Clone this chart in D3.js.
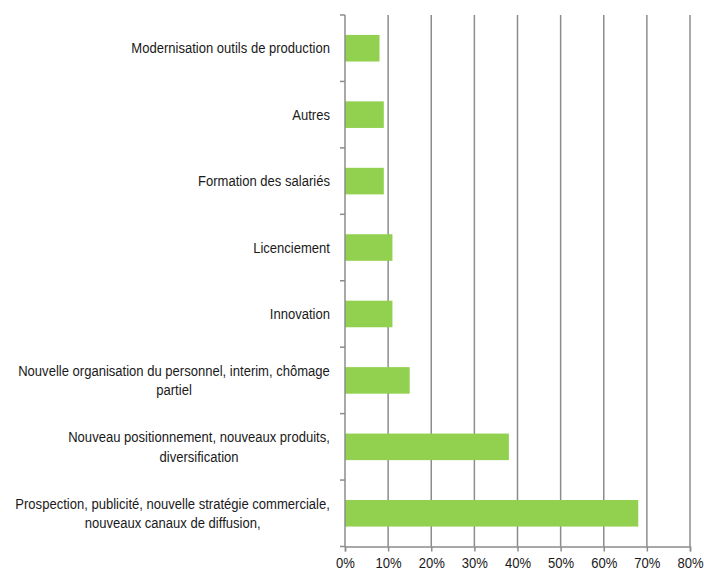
<!DOCTYPE html>
<html>
<head>
<meta charset="utf-8">
<script src="https://cdn.jsdelivr.net/npm/d3@7"></script>
<style>
  body { margin: 0; background: #fff; }
  text { font-family: "Liberation Sans", Arial, sans-serif; fill: #1a1a1a; }
</style>
</head>
<body>
<script>
// categories top to bottom, each entry split into display lines
var categories = [
    ["Modernisation outils de production"],
    ["Autres"],
    ["Formation des salariés"],
    ["Licenciement"],
    ["Innovation"],
    ["Nouvelle organisation du personnel, interim, chômage", "partiel"],
    ["Nouveau positionnement, nouveaux produits,", "diversification"],
    ["Prospection, publicité, nouvelle stratégie commerciale,", "nouveaux canaux de diffusion,"]
];
var values = [0.08, 0.09, 0.09, 0.11, 0.11, 0.15, 0.38, 0.68];
var xTicks = [0, 0.1, 0.2, 0.3, 0.4, 0.5, 0.6, 0.7, 0.8];

var width = 704, height = 572;
var margin = {top: 15, right: 14, bottom: 25, left: 345};
var squeeze = 0.87;   // no narrow font installed, so condense the regular one
var fontSize = '15px';
var gray = '#8c8c8c';

var svg = d3.select('body')
    .append('svg')
    .attr('width', width)
    .attr('height', height);

var xScale = d3.scaleLinear()
    .domain([0, 0.8])
    .range([margin.left, width - margin.right]);

var y0 = margin.top, y1 = height - margin.bottom - 0.5;

var yScale = d3.scaleBand()
    .domain(d3.range(categories.length))
    .range([y0, y1])
    .paddingInner(0.6)
    .paddingOuter(0.3);

var step = yScale.step();

// vertical gridlines
svg.append('g')
    .selectAll('line')
    .data(xTicks.slice(1))
    .enter().append('line')
    .attr('x1', function(d) { return xScale(d); })
    .attr('x2', function(d) { return xScale(d); })
    .attr('y1', y0)
    .attr('y2', y1)
    .attr('stroke', gray)
    .attr('stroke-width', 1.5);

// bars
svg.append('g')
    .selectAll('rect')
    .data(values)
    .enter().append('rect')
    .attr('x', xScale(0))
    .attr('y', function(d, i) { return yScale(i); })
    .attr('width', function(d) { return xScale(d) - xScale(0); })
    .attr('height', yScale.bandwidth())
    .attr('fill', '#92d050');

// x axis
var xAxis = d3.axisBottom(xScale)
    .tickValues(xTicks)
    .tickFormat(d3.format('.0%'))
    .tickSize(5)
    .tickPadding(6);

var gx = svg.append('g')
    .attr('transform', 'translate(0,' + y1 + ')')
    .call(xAxis);
gx.select('.domain').attr('stroke', gray).attr('stroke-width', 1.5);
gx.selectAll('.tick line').attr('stroke', gray).attr('stroke-width', 1.5);
gx.selectAll('.tick text')
    .style('font-size', fontSize)
    .style('font-family', '"Liberation Sans", Arial, sans-serif')
    .attr('fill', '#1a1a1a')
    .attr('transform', function() {
        var y = +d3.select(this).attr('y');
        d3.select(this).attr('y', 0);
        return 'translate(0,' + y + ') scale(' + squeeze + ',1)';
    });

// y axis line and tick marks at band boundaries
svg.append('line')
    .attr('x1', xScale(0)).attr('x2', xScale(0))
    .attr('y1', y0).attr('y2', y1)
    .attr('stroke', gray)
    .attr('stroke-width', 1.5);

svg.append('g')
    .selectAll('line')
    .data(d3.range(categories.length + 1))
    .enter().append('line')
    .attr('x1', xScale(0) - 5)
    .attr('x2', xScale(0))
    .attr('y1', function(i) { return y0 + i * step; })
    .attr('y2', function(i) { return y0 + i * step; })
    .attr('stroke', gray)
    .attr('stroke-width', 1.5);

// category labels, lines centred inside a right aligned block
var labelRight = 330, lineH = 19.5;
var labels = svg.append('g')
    .selectAll('g')
    .data(categories)
    .enter().append('g');

labels.each(function(lines, i) {
    var g = d3.select(this);
    var cy = yScale(i) + yScale.bandwidth() / 2;
    var texts = g.selectAll('text')
        .data(lines)
        .enter().append('text')
        .attr('dy', '0.35em')
        .attr('text-anchor', 'middle')
        .style('font-size', fontSize)
        .text(function(d) { return d; });
    var maxW = d3.max(texts.nodes(), function(n) { return n.getComputedTextLength(); }) * squeeze;
    var cx = labelRight - maxW / 2;
    texts.attr('transform', function(d, j) {
        var y = cy + (j - (lines.length - 1) / 2) * lineH;
        return 'translate(' + cx + ',' + y + ') scale(' + squeeze + ',1)';
    });
});
</script>
</body>
</html>
